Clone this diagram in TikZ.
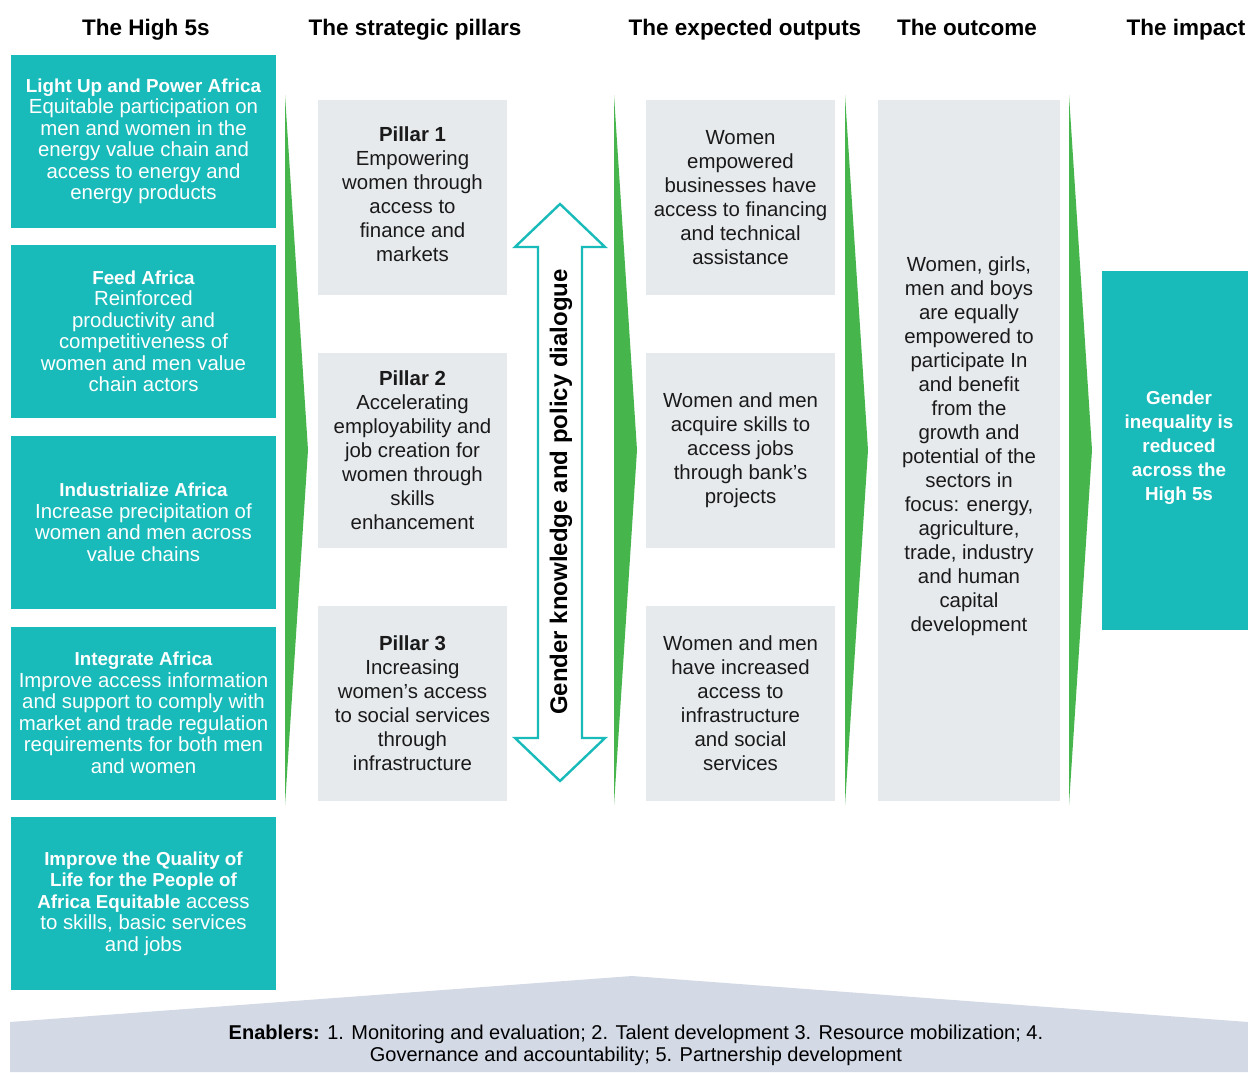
\documentclass[tikz,border=0pt]{standalone}
\usepackage{fontspec}
\setmainfont{Liberation Sans}
\definecolor{tealc}{HTML}{19BBBA}
\definecolor{greyc}{HTML}{E6EAED}
\definecolor{greenc}{HTML}{46B64C}
\definecolor{enab}{HTML}{D3D9E5}
\definecolor{txt}{HTML}{1A1A1A}
\newcommand{\ttl}[1]{{\fontsize{18.8}{21.5}\selectfont\bfseries #1}}
\tikzset{
  tealbox/.style={fill=tealc, text=white, align=center, inner sep=0pt, minimum width=265pt},
  greybox/.style={fill=greyc, text=txt, align=center, inner sep=0pt, minimum width=189pt, minimum height=195pt},
  hdr/.style={font=\bfseries\fontsize{22.5}{26}\selectfont, text=black, anchor=base},
  chevron/.style={fill=greenc, draw=none},
  lefttext/.style={font=\fontsize{20.4}{21.5}\selectfont},
  bodytext/.style={font=\fontsize{20.4}{24}\selectfont}
}
\begin{document}
\begin{tikzpicture}[x=1pt,y=-1pt]
\useasboundingbox (0,0) rectangle (1248,1072);
\fill[white] (0,0) rectangle (1248,1072);

% headers
\node[hdr] (hA) at (146,35) {The High 5s};
\node[hdr] (hB) at (415,35) {The strategic pillars};
\node[hdr] (hC) at (745,35) {The expected outputs};
\node[hdr] (hD) at (967,35) {The outcome};
\node[hdr] (hE) at (1186,35) {The impact};

% High 5s boxes
\node[tealbox, lefttext, minimum height=173pt] (h1) at (143.5,141.5)
  {\ttl{Light Up and Power Africa}\\Equitable participation on\\men and women in the\\energy value chain and\\access to energy and\\energy products};
\node[tealbox, lefttext, minimum height=173pt] (h2) at (143.5,331.5)
  {\ttl{Feed Africa}\\Reinforced\\productivity and\\competitiveness of\\women and men value\\chain actors};
\node[tealbox, lefttext, minimum height=173pt] (h3) at (143.5,522.5)
  {\ttl{Industrialize Africa}\\Increase precipitation of\\women and men across\\value chains};
\node[tealbox, lefttext, minimum height=173pt] (h4) at (143.5,713)
  {\ttl{Integrate Africa}\\Improve access information\\and support to comply with\\market and trade regulation\\requirements for both men\\and women};
\node[tealbox, lefttext, minimum height=173pt] (h5) at (143.5,903.5)
  {\ttl{Improve the Quality of}\\\ttl{Life for the People of}\\\ttl{Africa Equitable} access\\to skills, basic services\\and jobs};

% green chevrons
\fill[chevron] (285,95) -- (308,450) -- (285,805) -- cycle;
\fill[chevron] (614,95) -- (637,450) -- (614,805) -- cycle;
\fill[chevron] (845,95) -- (868,450) -- (845,805) -- cycle;
\fill[chevron] (1069,95) -- (1092,450) -- (1069,805) -- cycle;

% pillars
\node[greybox, bodytext] (p1) at (412.5,197.5) {};
\node[bodytext, text=txt, align=center] (p1t) at (412.5,194.5)
  {\textbf{Pillar 1}\\Empowering\\women through\\access to\\finance and\\markets};
\node[greybox, bodytext] (p2) at (412.5,450.5)
  {\textbf{Pillar 2}\\Accelerating\\employability and\\job creation for\\women through\\skills\\enhancement};
\node[greybox, bodytext] (p3) at (412.5,703.5)
  {\textbf{Pillar 3}\\Increasing\\women's access\\to social services\\through\\infrastructure};

% double arrow
\draw[tealc, line width=2.4pt, fill=white, line join=miter]
  (560,204) -- (605,247) -- (582,247) -- (582,738) -- (605,738) -- (560,781)
  -- (515,738) -- (538,738) -- (538,247) -- (515,247) -- cycle;
\node[rotate=90, font=\bfseries\fontsize{24}{28}\selectfont, text=black] (gk) at (561,492)
  {Gender knowledge and policy dialogue};

% outputs
\node[greybox, bodytext] (o1) at (740.5,197.5)
  {Women\\empowered\\businesses have\\access to financing\\and technical\\assistance};
\node[greybox, bodytext] (o2) at (740.5,450.5)
  {Women and men\\acquire skills to\\access jobs\\through bank's\\projects};
\node[greybox, bodytext] (o3) at (740.5,703.5)
  {Women and men\\have increased\\access to\\infrastructure\\and social\\services};

% outcome
\node[greybox, minimum width=182pt, minimum height=701pt] (oc) at (969,450.5) {};
\node[bodytext, text=txt, align=center] (oct) at (969,446.5)
  {Women, girls,\\men and boys\\are equally\\empowered to\\participate In\\and benefit\\from the\\growth and\\potential of the\\sectors in\\focus: energy,\\agriculture,\\trade, industry\\and human\\capital\\development};

% impact
\node[tealbox, minimum width=146pt, minimum height=359pt] (im) at (1175,450.5) {};
\node[text=white, align=center, font=\bfseries\fontsize{18.8}{24}\selectfont] (imt) at (1179,448)
  {Gender\\inequality is\\reduced\\across the\\High 5s};

% enablers
\fill[enab] (10,1022) -- (632,976) -- (1248,1022) -- (1248,1072) -- (10,1072) -- cycle;
\node[font=\fontsize{20}{22}\selectfont, text=black, align=center] (en) at (636,1045)
  {\textbf{Enablers:} 1. Monitoring and evaluation; 2. Talent development 3. Resource mobilization; 4.\\Governance and accountability; 5. Partnership development};
\end{tikzpicture}
\end{document}
